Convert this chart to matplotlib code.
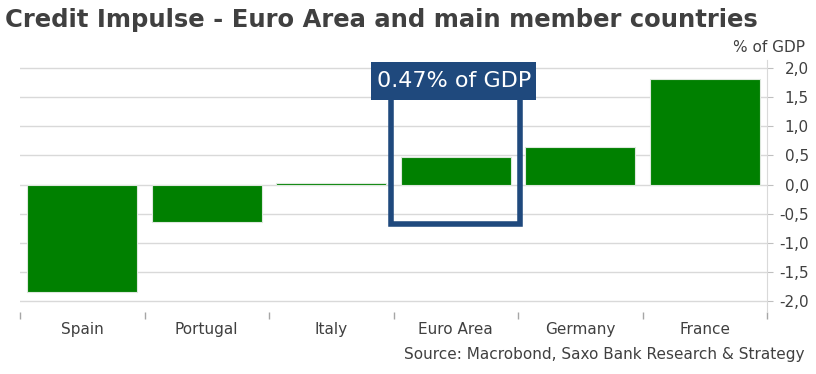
import matplotlib
matplotlib.use("Agg")
import matplotlib.pyplot as plt
from matplotlib.patches import Rectangle
import numpy as np

categories = ["Spain", "Portugal", "Italy", "Euro Area", "Germany", "France"]
values = [-1.85, -0.64, 0.03, 0.47, 0.64, 1.81]
yticks = [-2.0, -1.5, -1.0, -0.5, 0.0, 0.5, 1.0, 1.5, 2.0]
ytick_labels = ["-2,0", "-1,5", "-1,0", "-0,5", "0,0", "0,5", "1,0", "1,5", "2,0"]
title = "Credit Impulse - Euro Area and main member countries"
unit_label = "% of GDP"
source = "Source: Macrobond, Saxo Bank Research & Strategy"
callout = "0.47% of GDP"
highlight_index = 3

plt.rcParams['font.family'] = ['DejaVu Sans']
TXT = '#404040'
GREEN = '#008000'
NAVY = '#1F497D'

fig = plt.figure(figsize=(8.16, 3.74), dpi=100)
W, H = 816, 374
ax = fig.add_axes([20 / W, 1 - 312 / H, (767 - 20) / W, (312 - 60) / H])

x = np.arange(len(categories))
ax.bar(x, values, width=0.88, color=GREEN, edgecolor='#DDE8DD', linewidth=0.8, zorder=3)

ax.set_xlim(-0.5, len(categories) - 0.5)
ax.set_ylim(-2.19, 2.14)

ax.yaxis.tick_right()
ax.set_yticks(yticks)
ax.set_yticklabels(ytick_labels)
ax.grid(axis='y', color='#D9D9D9', linewidth=1, zorder=0)
ax.tick_params(axis='y', length=4, color='#BFBFBF', labelsize=11, labelcolor=TXT, pad=26)
for lab in ax.get_yticklabels():
    lab.set_horizontalalignment('right')

ax.set_xticks(x)
ax.set_xticklabels(categories)
ax.set_xticks(np.arange(len(categories) + 1) - 0.5, minor=True)
ax.tick_params(axis='x', which='major', length=0, labelsize=11, labelcolor=TXT, pad=7)
ax.tick_params(axis='x', which='minor', length=5, color='#A6A6A6', width=1)

for s in ['top', 'left', 'bottom']:
    ax.spines[s].set_visible(False)
ax.spines['right'].set_color('#D9D9D9')

# highlight rectangle
rect = Rectangle((highlight_index - 0.52, -0.67), 1.035, 2.45, fill=False,
                 edgecolor=NAVY, linewidth=4, zorder=4, clip_on=False)
ax.add_patch(rect)
# callout label box
label_box = Rectangle((highlight_index - 0.68, 1.457), 1.326, 0.651, facecolor=NAVY,
                      edgecolor=NAVY, linewidth=0, zorder=5, clip_on=False)
ax.add_patch(label_box)
ax.text(highlight_index - 0.017, 1.78, callout, ha='center', va='center', fontsize=16,
        color='white', zorder=6, clip_on=False)

fig.text(5 / W, 1 - 20 / H, title, fontsize=17.5, fontweight='bold', color=TXT,
         ha='left', va='center')
fig.text(805 / W, 1 - 47 / H, unit_label, fontsize=11, color=TXT, ha='right', va='center')
fig.text(805 / W, 1 - 354 / H, source, fontsize=11, color=TXT, ha='right', va='center')

fig.savefig("out.png", dpi=100)
